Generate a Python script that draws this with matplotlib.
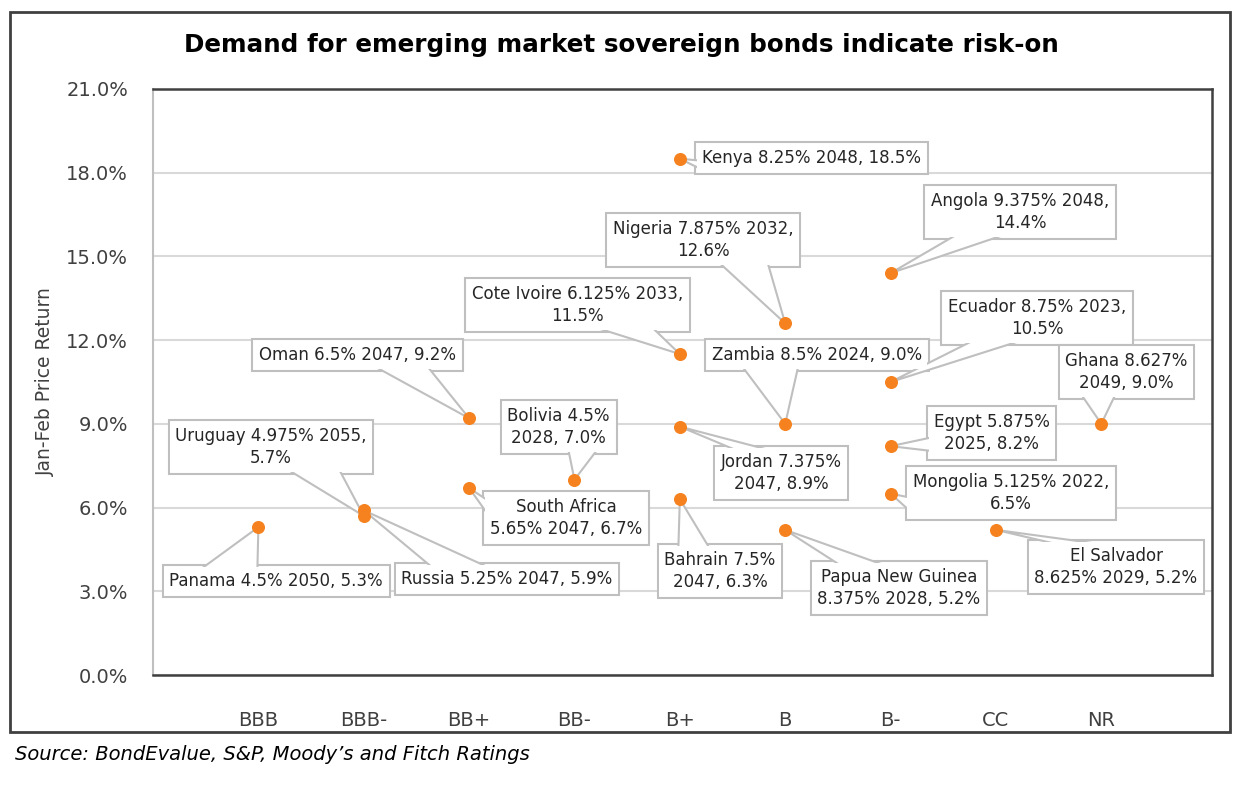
import matplotlib
matplotlib.use("Agg")
import matplotlib.pyplot as plt
from matplotlib.patches import Rectangle, Polygon
from matplotlib.ticker import FuncFormatter

# ratings on the x axis
ratings = ['BBB', 'BBB-', 'BB+', 'BB-', 'B+', 'B', 'B-', 'CC', 'NR']

# bonds: rating index (1 = BBB), Jan-Feb price return (%), label text
bond_rating = [1, 2, 2, 3, 3, 4, 5, 5, 5, 5, 6, 6, 6, 7, 7, 7, 7, 8, 9]
bond_return = [5.3, 5.7, 5.9, 9.2, 6.7, 7.0, 18.5, 11.5, 8.9, 6.3,
               12.6, 9.0, 5.2, 14.4, 10.5, 8.2, 6.5, 5.2, 9.0]
bond_label = ['Panama 4.5% 2050, 5.3%',
              'Uruguay 4.975% 2055,\n5.7%',
              'Russia 5.25% 2047, 5.9%',
              'Oman 6.5% 2047, 9.2%',
              'South Africa\n5.65% 2047, 6.7%',
              'Bolivia 4.5%\n2028, 7.0%',
              'Kenya 8.25% 2048, 18.5%',
              'Cote Ivoire 6.125% 2033,\n11.5%',
              'Jordan 7.375%\n2047, 8.9%',
              'Bahrain 7.5%\n2047, 6.3%',
              'Nigeria 7.875% 2032,\n12.6%',
              'Zambia 8.5% 2024, 9.0%',
              'Papua New Guinea\n8.375% 2028, 5.2%',
              'Angola 9.375% 2048,\n14.4%',
              'Ecuador 8.75% 2023,\n10.5%',
              'Egypt 5.875%\n2025, 8.2%',
              'Mongolia 5.125% 2022,\n6.5%',
              'El Salvador\n8.625% 2029, 5.2%',
              'Ghana 8.627%\n2049, 9.0%']

# where each callout box sits (data coords), layout only
label_xy = [(1.17, 3.37), (1.12, 8.17), (3.36, 3.44), (1.94, 11.47),
            (3.92, 5.63), (3.85, 8.89), (6.25, 18.53), (4.03, 13.26),
            (5.96, 7.24), (5.38, 3.73), (5.22, 15.59), (6.30, 11.47),
            (7.08, 3.12), (8.23, 16.59), (8.39, 12.80), (7.96, 8.67),
            (8.14, 6.52), (9.14, 3.87), (9.24, 10.86)]

dark = '#404040'
lgray = '#bfbfbf'
orange = '#f5821f'

fig = plt.figure(figsize=(12.42, 7.88), dpi=100)
ax = fig.add_axes([0.1232, 0.1434, 0.8526, 0.7437])

# outer frame
fig.patches.append(Rectangle((0.008, 0.071), 0.982, 0.914, transform=fig.transFigure,
                             fill=False, ec=dark, lw=2))

ax.set_xlim(0, 10.05)
ax.set_ylim(0, 21)
ax.set_yticks(range(0, 22, 3))
ax.yaxis.set_major_formatter(FuncFormatter(lambda v, p: '%.1f%%' % v))
ax.set_xticks(range(1, 10))
ax.set_xticklabels(ratings)
ax.tick_params(axis='both', length=0, labelsize=14, colors='#404040')
ax.tick_params(axis='x', pad=26)
ax.tick_params(axis='y', pad=18)
ax.grid(axis='y', color='#d9d9d9', lw=1.5)
ax.set_axisbelow(True)
for s in ['top', 'right', 'bottom']:
    ax.spines[s].set_color(dark)
    ax.spines[s].set_linewidth(1.8)
ax.spines['left'].set_color(lgray)
ax.spines['left'].set_linewidth(1.5)

ax.set_ylabel('Jan-Feb Price Return', fontsize=13.5, color='#404040', labelpad=8)

ax.scatter(bond_rating, bond_return, s=70, color=orange, zorder=6, clip_on=False)

# callout boxes: bordered box below, borderless box with the text on top
boxes = []
for i in range(len(bond_label)):
    lx, ly = label_xy[i]
    t = ax.text(lx, ly, bond_label[i], ha='center', va='center', fontsize=12,
                color='#262626', linespacing=1.3, zorder=3,
                bbox=dict(boxstyle='square,pad=0.4', fc='white', ec=lgray, lw=1.5))
    ax.text(lx, ly, bond_label[i], ha='center', va='center', fontsize=12,
            color='#262626', linespacing=1.3, zorder=3.6,
            bbox=dict(boxstyle='square,pad=0.31', fc='white', ec='none', lw=0))
    boxes.append(t)

fig.canvas.draw()
renderer = fig.canvas.get_renderer()
inv = ax.transData.inverted()

# pointer like an Excel rectangular callout
for i, t in enumerate(boxes):
    bb = t.get_bbox_patch().get_window_extent(renderer)
    x0, x1, y0, y1 = bb.x0, bb.x1, bb.y0, bb.y1
    w, h = x1 - x0, y1 - y0
    cx, cy = (x0 + x1) / 2, (y0 + y1) / 2
    tx, ty = ax.transData.transform((bond_rating[i], bond_return[i]))
    dx, dy = tx - cx, ty - cy
    e = 4
    if abs(dy) > abs(dx * h / w):
        if dx > 0:
            a, b = x0 + w * 7 / 12, x0 + w * 10 / 12
        else:
            a, b = x0 + w * 2 / 12, x0 + w * 5 / 12
        yy = y1 - e if dy > 0 else y0 + e
        pts = [(a, yy), (tx, ty), (b, yy)]
    else:
        if dy < 0:
            a, b = y1 - h * 7 / 12, y1 - h * 10 / 12
        else:
            a, b = y1 - h * 2 / 12, y1 - h * 5 / 12
        xx = x1 - e if dx > 0 else x0 + e
        pts = [(xx, a), (tx, ty), (xx, b)]
    ax.add_patch(Polygon(inv.transform(pts), closed=True, fc='white', ec=lgray,
                         lw=1.5, zorder=3.5, joinstyle='miter'))

fig.text(0.5, 0.943, 'Demand for emerging market sovereign bonds indicate risk-on',
         ha='center', va='center', fontsize=17.7, fontweight='bold', color='black')
fig.text(0.012, 0.042, 'Source: BondEvalue, S&P, Moody\u2019s and Fitch Ratings',
         ha='left', va='center', fontsize=14, style='italic', color='black')

plt.savefig('out.png', dpi=100)
